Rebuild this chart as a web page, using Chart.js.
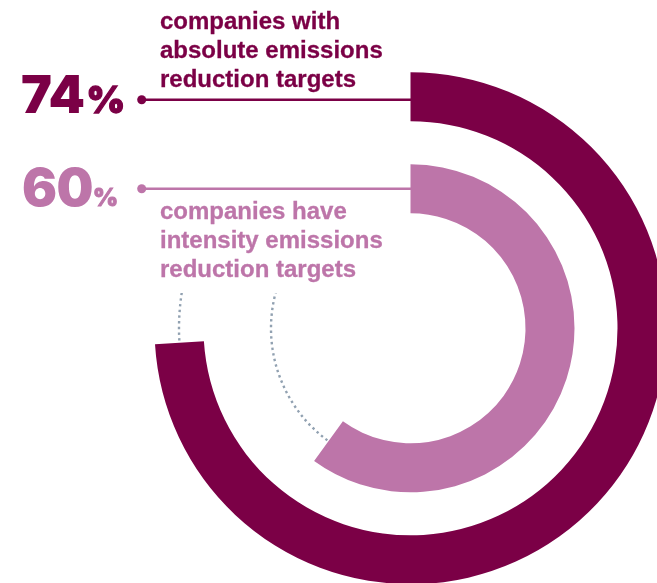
<!DOCTYPE html>
<html>
<head>
<meta charset="utf-8">
<script src="https://cdn.jsdelivr.net/npm/chart.js@4.4.1/dist/chart.umd.min.js"></script>
<style>
  html, body { margin:0; padding:0; width:657px; height:583px; overflow:hidden; background:#fff; }
  #wrap { position:absolute; left:0; top:0; width:700px; height:620px; }
  .num { position:absolute; font-family:"Inter","Liberation Sans",sans-serif; font-weight:900; font-size:52px; line-height:52px; white-space:nowrap; letter-spacing:-0.5px; }
  .pct { font-weight:900; letter-spacing:0; -webkit-text-stroke:1.3px currentColor; }
  .lbl { position:absolute; left:160px; font-family:"Liberation Sans",Arial,sans-serif; font-weight:700; font-size:24px; line-height:29px; white-space:nowrap; -webkit-text-stroke:0.3px currentColor; }
  .dark { color:#7b0046; }
  .light { color:#bd75a9; }
</style>
</head>
<body>
<div id="wrap"><canvas id="c" width="700" height="620"></canvas></div>
<div class="num dark" style="left:21px; top:69px;">74<span class="pct" style="font-size:37px; margin-left:2px;">%</span></div>
<div class="num light" style="left:22px; top:162px;">60<span class="pct" style="font-size:24px; margin-left:0px; -webkit-text-stroke:0.9px currentColor;">%</span></div>
<div class="lbl dark" style="top:6px;">companies with<br>absolute emissions<br>reduction targets</div>
<div class="lbl light" style="top:196px;">companies have<br>intensity emissions<br>reduction targets</div>
<script>
// ---- data ----
const categories = ["absolute emissions reduction targets", "intensity emissions reduction targets"];
const absoluteValues = [74, 26];   // share with target, remainder
const intensityValues = [60, 40];  // share with target, remainder
const seriesColors = ["#7b0046", "#bd75a9"];
const dotColor = "#91a1b1";

const leaderPlugin = {
  id: 'leaders',
  afterDatasetsDraw(chart) {
    const ctx = chart.ctx;
    const specs = [
      { ds: 0, color: seriesColors[0], frac: 0.44 },
      { ds: 2, color: seriesColors[1], frac: 0.5 }
    ];
    specs.forEach(s => {
      const meta = chart.getDatasetMeta(s.ds);
      const main = meta.data[0];
      const rest = meta.data[1];
      const p = main.getProps(['x','y','innerRadius','outerRadius','startAngle','endAngle'], true);
      const r = rest.getProps(['x','y','innerRadius','outerRadius','startAngle','endAngle'], true);
      // dotted remainder arc (hidden behind the text area at the top)
      ctx.save();
      ctx.beginPath();
      ctx.rect(0, 293, chart.width, chart.height);
      ctx.clip();
      ctx.beginPath();
      ctx.arc(r.x, r.y, (r.innerRadius + r.outerRadius) / 2, r.startAngle + 0.01, r.endAngle);
      ctx.strokeStyle = dotColor;
      ctx.lineWidth = 2.4;
      ctx.lineCap = 'butt';
      ctx.setLineDash([2.4, 3.3]);
      ctx.stroke();
      ctx.restore();
      // leader line with dot
      const ly = p.y - (p.innerRadius + s.frac * (p.outerRadius - p.innerRadius));
      ctx.save();
      ctx.strokeStyle = s.color;
      ctx.fillStyle = s.color;
      ctx.lineWidth = 2.5;
      ctx.beginPath();
      ctx.moveTo(141.7, ly);
      ctx.lineTo(p.x + 1, ly);
      ctx.stroke();
      ctx.beginPath();
      ctx.arc(141.7, ly, 4.5, 0, Math.PI * 2);
      ctx.fill();
      ctx.restore();
    });
  }
};

new Chart(document.getElementById('c'), {
  type: 'doughnut',
  data: {
    labels: ["with target", "without"],
    datasets: [
      { label: categories[0], data: absoluteValues, backgroundColor: [seriesColors[0], 'rgba(0,0,0,0)'], borderWidth: 0, weight: 49 },
      { label: 'gap', data: [1], backgroundColor: ['rgba(0,0,0,0)'], borderWidth: 0, weight: 43 },
      { label: categories[1], data: intensityValues, backgroundColor: [seriesColors[1], 'rgba(0,0,0,0)'], borderWidth: 0, weight: 49 }
    ]
  },
  options: {
    responsive: false,
    animation: false,
    events: [],
    cutout: 115,
    rotation: 0,
    layout: { padding: { left: 154.5, top: 72.3, right: 33.5, bottom: 35.7 } },
    plugins: { legend: { display: false }, tooltip: { enabled: false } }
  },
  plugins: [leaderPlugin]
});
</script>
</body>
</html>
